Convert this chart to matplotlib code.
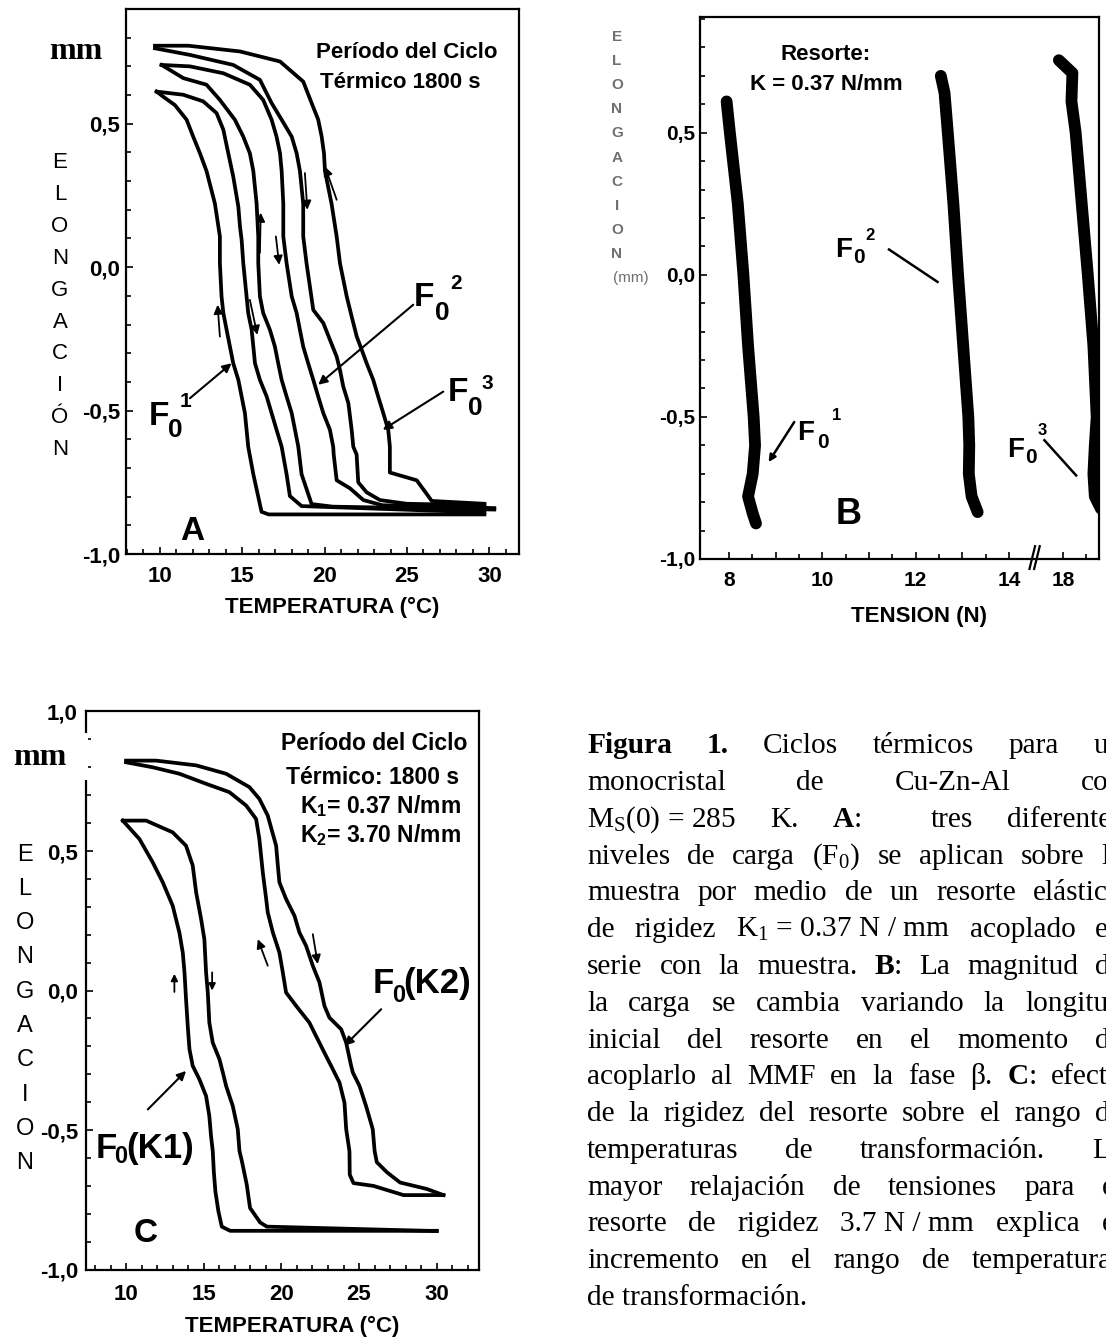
import re
import numpy as np
import matplotlib
matplotlib.use("Agg")
import matplotlib.pyplot as plt
from matplotlib.patches import Rectangle
from matplotlib.ticker import MultipleLocator, FixedLocator

plt.rcParams['font.family'] = ['Liberation Sans', 'DejaVu Sans']
plt.rcParams['mathtext.default'] = 'regular'

W, H = 1106, 1338

# ---------------- panel A: temperature (C) vs elongation (mm) ----------------
# loop F0^1
a1_cool_t = [9.80, 10.30, 10.91, 11.62, 12.02, 12.43, 12.83, 13.34, 13.64, 13.64, 13.74, 13.85,
             14.05, 14.25, 14.45, 14.76, 14.96, 15.16, 15.26, 15.36, 15.67, 16.17, 16.6, 29.7]
a1_cool_e = [0.612, 0.59, 0.565, 0.514, 0.455, 0.397, 0.335, 0.221, 0.107, 0.014, -0.102, -0.160,
             -0.219, -0.277, -0.335, -0.393, -0.451, -0.509, -0.567, -0.626, -0.722, -0.853, -0.862, -0.862]
a1_heat_t = [9.80, 11.42, 12.63, 13.44, 13.85, 14.15, 14.45, 14.76, 14.86, 14.96, 15.06, 15.26, 15.36,
             15.57, 15.67, 15.77, 16.07, 16.48, 16.78, 17.08, 17.39, 17.69, 17.89, 18.6, 29.7]
a1_heat_e = [0.612, 0.601, 0.578, 0.537, 0.479, 0.397, 0.316, 0.211, 0.142, 0.095, 0.014, -0.102, -0.160,
             -0.219, -0.277, -0.335, -0.393, -0.451, -0.509, -0.567, -0.626, -0.722, -0.798, -0.833, -0.855]
# loop F0^2
a2_cool_t = [10.10, 11.42, 12.83, 13.64, 14.55, 15.06, 15.46, 15.67, 15.87, 15.97, 15.97, 16.07, 16.27,
             16.68, 16.98, 17.18, 17.39, 17.69, 18.0, 18.2, 18.4, 18.6, 19.21, 20.5, 30.3]
a2_cool_e = [0.705, 0.659, 0.636, 0.583, 0.514, 0.455, 0.397, 0.335, 0.221, 0.107, 0.014, -0.102, -0.160,
             -0.219, -0.277, -0.335, -0.393, -0.451, -0.509, -0.567, -0.626, -0.722, -0.826, -0.835, -0.845]
a2_heat_t = [10.10, 11.82, 13.85, 15.46, 16.27, 16.78, 17.08, 17.29, 17.39, 17.49, 17.49, 17.69, 18.0,
             18.3, 18.5, 18.7, 19.0, 19.31, 19.61, 19.92, 20.32, 20.52, 20.55, 20.73, 21.54, 22.35, 23.5, 30.3]
a2_heat_e = [0.705, 0.700, 0.676, 0.636, 0.583, 0.514, 0.455, 0.397, 0.335, 0.221, 0.107, 0.014, -0.102,
             -0.160, -0.219, -0.277, -0.335, -0.393, -0.451, -0.509, -0.567, -0.626, -0.653, -0.743, -0.771,
             -0.812, -0.83, -0.84]
# loop F0^3
a3_cool_t = [9.70, 11.82, 14.45, 16.07, 16.78, 17.39, 18.0, 18.3, 18.5, 18.7, 18.7, 18.9, 19.31, 19.92,
             20.32, 20.73, 20.93, 21.13, 21.44, 21.64, 21.74, 21.94, 22.04, 22.55, 23.36, 25.0, 29.7]
a3_cool_e = [0.763, 0.740, 0.705, 0.653, 0.572, 0.514, 0.455, 0.397, 0.335, 0.221, 0.107, 0.014, -0.149,
             -0.195, -0.253, -0.312, -0.358, -0.416, -0.474, -0.567, -0.626, -0.653, -0.750, -0.785,
             -0.812, -0.825, -0.83]
a3_heat_t = [9.70, 11.72, 14.86, 17.29, 18.7, 19.21, 19.61, 19.82, 19.96, 20.02, 20.42, 20.73, 20.93,
             21.34, 21.64, 21.95, 22.25, 22.55, 22.95, 23.25, 23.56, 23.86, 23.96, 23.96, 25.59, 26.29,
             26.5, 29.7]
a3_heat_e = [0.772, 0.772, 0.752, 0.717, 0.647, 0.572, 0.514, 0.455, 0.397, 0.335, 0.221, 0.107, 0.014,
             -0.102, -0.172, -0.242, -0.288, -0.335, -0.393, -0.451, -0.509, -0.567, -0.626, -0.716,
             -0.743, -0.798, -0.815, -0.825]

# ---------------- panel B: tension (N) vs elongation (mm) ----------------
b1_t = [7.95, 8.02, 8.19, 8.31, 8.41, 8.53, 8.56, 8.51, 8.41, 8.51, 8.58]
b1_e = [0.61, 0.50, 0.25, 0.0, -0.25, -0.50, -0.60, -0.70, -0.78, -0.84, -0.875]
b2_t = [12.54, 12.62, 12.69, 12.81, 12.91, 13.02, 13.13, 13.15, 13.14, 13.2, 13.33]
b2_e = [0.70, 0.64, 0.5, 0.25, 0.0, -0.25, -0.5, -0.6, -0.7, -0.78, -0.835]
b3_t = [17.91, 18.2, 18.18, 18.27, 18.40, 18.53, 18.65, 18.72, 18.68, 18.65, 18.68, 18.81]
b3_e = [0.755, 0.71, 0.61, 0.5, 0.25, 0.0, -0.25, -0.5, -0.6, -0.7, -0.78, -0.823]

# ---------------- panel C: spring K1 vs K2 ----------------
c1_heat_t = [9.79, 11.29, 13.0, 13.86, 14.29, 14.51, 14.83, 15.04, 15.15, 15.26, 15.36, 15.58, 16.01,
             16.23, 16.44, 16.87, 17.19, 17.30, 17.45, 17.77, 17.98, 18.63, 19.06, 30.0]
c1_heat_e = [0.609, 0.609, 0.567, 0.519, 0.448, 0.352, 0.256, 0.184, 0.065, -0.007, -0.115, -0.187,
             -0.246, -0.294, -0.342, -0.414, -0.497, -0.575, -0.61, -0.696, -0.779, -0.831, -0.846, -0.862]
c1_cool_t = [9.79, 10.86, 11.72, 12.36, 13.0, 13.43, 13.65, 13.76, 13.86, 13.97, 14.08, 14.29, 14.72,
             15.15, 15.36, 15.47, 15.58, 15.65, 15.75, 15.94, 16.16, 16.7, 30.0]
c1_cool_e = [0.609, 0.543, 0.459, 0.388, 0.304, 0.208, 0.136, 0.065, -0.031, -0.127, -0.210, -0.270,
             -0.318, -0.378, -0.450, -0.522, -0.575, -0.65, -0.72, -0.79, -0.846, -0.861, -0.861]
c2_heat_t = [10.0, 11.93, 14.51, 16.44, 17.94, 18.58, 19.12, 19.66, 19.77, 19.87, 20.30, 20.84, 21.16,
             21.59, 22.02, 22.45, 22.77, 23.09, 23.85, 24.17, 24.49, 24.60, 25.03, 25.45, 25.88, 26.0,
             26.14, 26.79, 27.64, 29.36, 30.43]
c2_heat_e = [0.824, 0.824, 0.807, 0.777, 0.729, 0.687, 0.627, 0.519, 0.448, 0.388, 0.328, 0.268, 0.208,
             0.160, 0.089, 0.029, -0.055, -0.097, -0.139, -0.187, -0.270, -0.294, -0.342, -0.414, -0.497,
             -0.575, -0.615, -0.651, -0.688, -0.711, -0.733]
c2_cool_t = [10.0, 11.72, 13.43, 15.15, 16.65, 17.73, 18.37, 18.58, 18.80, 19.02, 19.12, 19.45, 19.87,
             20.09, 20.30, 20.95, 21.80, 22.23, 22.77, 23.31, 23.74, 24.06, 24.17, 24.38, 24.40, 24.64,
             25.92, 27.86, 30.43]
c2_cool_e = [0.818, 0.800, 0.777, 0.741, 0.711, 0.663, 0.615, 0.543, 0.424, 0.328, 0.280, 0.208, 0.136,
             0.065, -0.007, -0.055, -0.115, -0.163, -0.223, -0.282, -0.330, -0.402, -0.497, -0.575,
             -0.66, -0.69, -0.70, -0.733, -0.733]

temp_ticks = [10, 15, 20, 25, 30]
elong_ticks = [-1.0, -0.5, 0.0, 0.5]
elong_labels = ['-1,0', '-0,5', '0,0', '0,5']
tension_ticks = [8, 9, 10, 11, 12, 13, 14, 18]
tension_labels = ['8', '', '10', '', '12', '', '14', '18']

caption_lines = [
    ["{Figura}", "{1.}", "Ciclos", "térmicos", "para", "un"],
    ["monocristal", "de", "Cu-Zn-Al", "con"],
    ["$M_S$(0) = 285", "K.", "{A}:", "", "tres", "diferentes"],
    ["niveles", "de", "carga", "($F_0$)", "se", "aplican", "sobre", "la"],
    ["muestra", "por", "medio", "de", "un", "resorte", "elástico"],
    ["de", "rigidez", "$K_1$ = 0.37 N / mm", "acoplado", "en"],
    ["serie", "con", "la", "muestra.", "{B}:", "La", "magnitud", "de"],
    ["la", "carga", "se", "cambia", "variando", "la", "longitud"],
    ["inicial", "del", "resorte", "en", "el", "momento", "de"],
    ["acoplarlo", "al", "MMF", "en", "la", "fase", "β.", "{C}:", "efecto"],
    ["de", "la", "rigidez", "del", "resorte", "sobre", "el", "rango", "de"],
    ["temperaturas", "de", "transformación.", "La"],
    ["mayor", "relajación", "de", "tensiones", "para", "el"],
    ["resorte", "de", "rigidez", "3.7 N / mm", "explica", "el"],
    ["incremento", "en", "el", "rango", "de", "temperaturas"],
    ["de transformación."],
]

fig = plt.figure(figsize=(W / 100, H / 100), dpi=100)
renderer = fig.canvas.get_renderer()


def px_axes(x0, y0, x1, y1):
    return fig.add_axes([x0 / W, 1 - y1 / H, (x1 - x0) / W, (y1 - y0) / H])


def ptext(x, y, s, **kw):
    kw.setdefault('va', 'baseline')
    return fig.text(x / W, 1 - y / H, s, **kw)


def style(ax, xpad, ypad, lsize=16):
    for sp in ax.spines.values():
        sp.set_linewidth(1.6)
    ax.tick_params(which='both', direction='in', top=False, right=False, width=1.2)
    ax.tick_params(which='major', length=5)
    ax.tick_params(which='minor', length=3.5)
    ax.tick_params(axis='x', pad=xpad, labelsize=lsize)
    ax.tick_params(axis='y', pad=ypad, labelsize=lsize)


def arrow(ax, x0, y0, x1, y1, lw=1.3, ms=13):
    ax.annotate('', xy=(x1, y1), xytext=(x0, y0),
                arrowprops=dict(arrowstyle='-|>', color='k', lw=lw, mutation_scale=ms,
                                shrinkA=0, shrinkB=0))


def stacked(x, y0, dy, word, size, **kw):
    for i, ch in enumerate(word):
        ptext(x, y0 + i * dy + 0.36 * size * 1.389, ch, size=size, ha='center', **kw)


# ---------------- panel A ----------------
axA = px_axes(126, 9, 519, 554)
for t, e in [(a1_cool_t, a1_cool_e), (a1_heat_t, a1_heat_e), (a2_cool_t, a2_cool_e),
             (a2_heat_t, a2_heat_e), (a3_cool_t, a3_cool_e), (a3_heat_t, a3_heat_e)]:
    axA.plot(t, e, color='k', lw=2.7, solid_joinstyle='round')
axA.set_xlim(7.94, 31.8)
axA.set_ylim(-1.0, 0.9)
style(axA, 9, 4.3)
axA.set_xticks(temp_ticks)
axA.set_xticklabels([str(v) for v in temp_ticks], fontweight='bold')
axA.xaxis.set_minor_locator(MultipleLocator(1))
axA.set_yticks(elong_ticks)
axA.set_yticklabels(elong_labels, fontweight='bold')
axA.yaxis.set_minor_locator(MultipleLocator(0.1))

arrow(axA, 13.64, -0.242, 13.50, -0.131)
arrow(axA, 15.46, -0.114, 15.91, -0.236)
arrow(axA, 16.07, 0.05, 16.12, 0.19)
arrow(axA, 17.04, 0.107, 17.24, 0.008)
arrow(axA, 18.8, 0.328, 18.95, 0.20)
arrow(axA, 20.73, 0.235, 20.02, 0.351)
arrow(axA, 11.82, -0.457, 14.35, -0.335, lw=1.5)
arrow(axA, 25.38, -0.131, 19.61, -0.41, lw=1.5)
arrow(axA, 27.2, -0.434, 23.53, -0.567, lw=1.5)

ptext(76, 59, 'mm', family='Liberation Serif', weight='bold', size=23, ha='center')
stacked(60, 160, 31.9, 'ELONGACIÓN', 16)
ptext(406.7, 58, 'Período del Ciclo', weight='bold', size=16, ha='center')
ptext(400, 88, 'Térmico 1800 s', weight='bold', size=16, ha='center')
ptext(192, 540, 'A', weight='bold', size=24, ha='center')
ptext(332, 613, 'TEMPERATURA (°C)', weight='bold', size=16, ha='center')
for fx, fy, sx, sy, ux, uy, sup in [(149, 425, 168, 437, 180, 407, '1'),
                                    (414, 306, 435, 320, 450, 289, '2'),
                                    (448, 401, 468, 415, 481, 389.5, '3')]:
    ptext(fx, fy, 'F', weight='bold', size=24)
    ptext(sx, sy, '0', weight='bold', size=19)
    ptext(ux, uy, sup, weight='bold', size=15)

# ---------------- panel B ----------------
axB = px_axes(700, 17, 1099, 559)
B_SHIFT = 18 - 15.16
for t, e, sh in [(b1_t, b1_e, 0.0), (b2_t, b2_e, 0.0), (b3_t, b3_e, B_SHIFT)]:
    axB.plot(np.array(t) - sh, e, color='k', lw=8.5, solid_capstyle='round', solid_joinstyle='round')
axB.set_xlim(7.38, 15.93)
axB.set_ylim(-1.0, 0.907)
style(axB, 9, 3.6, lsize=15)
axB.set_xticks([v if v < 15 else v - B_SHIFT for v in tension_ticks])
axB.set_xticklabels(tension_labels, fontweight='bold')
axB.xaxis.set_minor_locator(FixedLocator([8.5, 9.5, 10.5, 11.5, 12.5, 13.5, 18.5 - B_SHIFT]))
axB.set_yticks(elong_ticks)
axB.set_yticklabels(elong_labels, fontweight='bold')
axB.yaxis.set_minor_locator(MultipleLocator(0.1))
for x0 in (14.44, 14.54):
    axB.plot([x0, x0 + 0.12], [-1.035, -0.955], color='k', lw=1.6, clip_on=False)
axB.plot([11.43, 12.47], [0.089, -0.025], color='k', lw=1.8)
axB.plot([14.76, 15.44], [-0.582, -0.706], color='k', lw=1.8)
arrow(axB, 9.40, -0.518, 8.85, -0.659, lw=1.8, ms=10)

stacked(617, 35, 24.2, 'ELONGACION', 11, color='#707070', weight='bold')
ptext(631, 282, '(mm)', size=11, color='#707070', ha='center')
ptext(826, 60, 'Resorte:', weight='bold', size=16, ha='center')
ptext(826, 90, 'K = 0.37 N/mm', weight='bold', size=16, ha='center')
ptext(849, 524, 'B', weight='bold', size=26, ha='center')
ptext(919, 622, 'TENSION (N)', weight='bold', size=16, ha='center')
for fx, fy, sx, sy, ux, uy, sup in [(797, 440, 817, 448, 832, 420, '1'),
                                    (835, 257, 853, 263, 865, 240, '2'),
                                    (1007, 457, 1025, 463, 1038, 435, '3')]:
    ptext(fx, fy, 'F', weight='bold', size=20)
    ptext(sx, sy, '0', weight='bold', size=15)
    ptext(ux, uy, sup, weight='bold', size=12)

# ---------------- panel C ----------------
axC = px_axes(86, 711.5, 479, 1269.6)
for t, e in [(c1_cool_t, c1_cool_e), (c1_heat_t, c1_heat_e),
             (c2_cool_t, c2_cool_e), (c2_heat_t, c2_heat_e)]:
    axC.plot(t, e, color='k', lw=2.7, solid_joinstyle='round')
axC.set_xlim(7.42, 32.72)
axC.set_ylim(-1.0, 1.0)
style(axC, 10.5, 5.8)
axC.set_xticks(temp_ticks)
axC.set_xticklabels([str(v) for v in temp_ticks], fontweight='bold')
axC.xaxis.set_minor_locator(MultipleLocator(1))
axC.set_yticks(elong_ticks + [1.0])
axC.set_yticklabels(elong_labels + ['1,0'], fontweight='bold')
axC.yaxis.set_minor_locator(MultipleLocator(0.1))

arrow(axC, 13.11, -0.005, 13.11, 0.06, ms=10)
arrow(axC, 15.54, 0.065, 15.54, 0.0, ms=10)
arrow(axC, 19.12, 0.089, 18.48, 0.184)
arrow(axC, 22.02, 0.202, 22.34, 0.095)
arrow(axC, 11.40, -0.426, 13.86, -0.288, lw=1.5)
arrow(axC, 26.42, -0.067, 24.06, -0.198, lw=1.5)

fig.add_artist(Rectangle((83.5 / W, 1 - 780 / H), 4.5 / W, 47 / H, transform=fig.transFigure,
                         facecolor='white', edgecolor='none', zorder=10))
ptext(39.5, 765, 'mm', family='Liberation Serif', weight='bold', size=23, ha='center')
stacked(25, 852, 34.3, 'ELONGACION', 17)
ptext(467.7, 750, 'Período del Ciclo', weight='bold', size=16.5, ha='right')
ptext(459.3, 784.3, 'Térmico: 1800 s', weight='bold', size=16.5, ha='right')
ptext(461, 813.3, '$K_1$= 0.37 N/mm', weight='bold', size=16.5, ha='right')
ptext(461, 841.7, '$K_2$= 3.70 N/mm', weight='bold', size=16.5, ha='right')
ptext(146, 1242, 'C', weight='bold', size=24, ha='center')
ptext(292.5, 1332, 'TEMPERATURA (°C)', weight='bold', size=16, ha='center')
for fx, fy, sx, sy, rx, lab in [(95.5, 1158.4, 114.5, 1163, 126, '(K1)'),
                                (373, 993.3, 392, 1001.7, 403.5, '(K2)')]:
    ptext(fx, fy, 'F', weight='bold', size=25)
    ptext(sx, sy, '0', weight='bold', size=17)
    ptext(rx, fy, lab, weight='bold', size=25)

# ---------------- caption (justified) ----------------
CAP_L, CAP_R = 587, 1123
CAP_Y0, CAP_DY = 753.3, 36.78
CAP_FS = 21.2


def token_parts(tok):
    out = []
    for p in re.split(r'(\{[^}]*\})', tok):
        if p:
            out.append((p.strip('{}'), p.startswith('{')))
    return out


def part_width(s, bold):
    t = fig.text(0, 0, s, family='Liberation Serif', size=CAP_FS,
                 weight='bold' if bold else 'normal')
    w = t.get_window_extent(renderer).width
    t.remove()
    return w


for k, line in enumerate(caption_lines):
    y = CAP_Y0 + k * CAP_DY
    widths = [sum(part_width(s, b) for s, b in token_parts(tok)) for tok in line]
    if k == len(caption_lines) - 1 or len(line) == 1:
        gap = part_width('a a', False) - part_width('aa', False)
    else:
        gap = (CAP_R - CAP_L - sum(widths)) / (len(line) - 1)
    x = CAP_L
    for tok, w in zip(line, widths):
        xx = x
        for s, b in token_parts(tok):
            ptext(xx, y, s, family='Liberation Serif', size=CAP_FS,
                  weight='bold' if b else 'normal')
            xx += part_width(s, b)
        x += w + gap

fig.savefig('out.png', dpi=100)
